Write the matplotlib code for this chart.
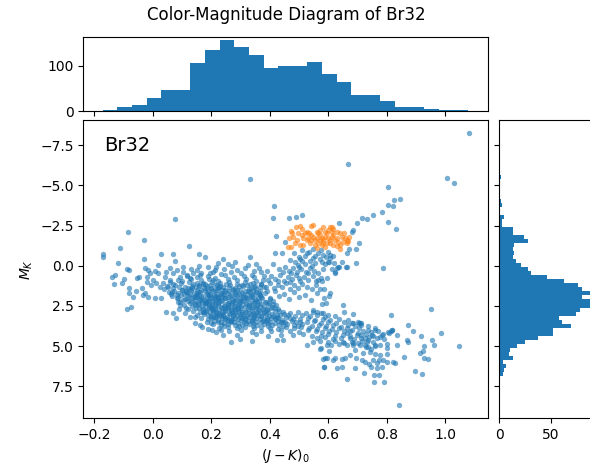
import numpy as np
import matplotlib
matplotlib.use("Agg")
import matplotlib.pyplot as plt

# (J-K)_0, M_K pairs, grouped by region
outer = [
    (1.081, -8.25), (0.668, -6.32), (0.334, -5.39), (1.005, -5.43), (1.031, -5.12),
    (0.803, -4.88), (0.826, -4.06), (0.845, -4.13), (0.803, -3.77), (0.823, -3.71),
    (0.785, -3.34), (0.754, -3.15), (0.734, -2.89), (0.716, -2.98), (0.700, -2.64),
    (0.803, -2.70), (0.832, -2.26), (0.638, -2.64), (0.686, -2.22), (0.682, -2.11),
    (0.416, -3.71), (0.412, -2.95), (0.467, -2.95), (0.490, -3.01), (0.509, -3.15),
    (0.075, -2.89), (-0.086, -2.12), (-0.029, -1.62), (-0.110, -1.10), (0.124, -1.22),
    (0.421, -1.86), (0.452, -1.49), (0.705, -1.43), (0.695, -1.02), (0.672, -1.04),
    (0.663, -0.77), (0.608, -0.67), (0.549, -1.02), (0.566, -0.77), (0.583, -0.67),
    (0.695, -0.15), (0.661, 0.06), (0.638, 0.06), (0.788, 0.12), (0.629, 0.12),
    (0.612, 0.22), (0.600, -0.25), (0.606, -0.46), (0.646, -0.25), (0.620, -0.15),
    (0.622, 0.43), (0.418, -0.81), (0.441, -0.77), (0.483, -0.77), (0.526, -0.81),
    (0.950, 2.71), (1.048, 5.00), (0.985, 4.17), (0.954, 4.62), (0.963, 4.93),
    (0.928, 4.99), (0.923, 5.28), (0.914, 5.41), (0.928, 5.72), (0.942, 5.78),
    (0.921, 6.73), (0.897, 6.53), (0.843, 8.66), (0.874, 3.71), (0.891, 4.04),
    (0.917, 4.37), (0.868, 4.62), (0.874, 4.72), (0.859, 5.66), (0.815, 3.07),
    (0.836, 4.31), (0.834, 4.93), (0.820, 4.00), (0.814, 4.04), (0.808, 4.17),
    (0.802, 5.14), (0.828, 6.07), (0.802, 5.97), (0.823, 5.97),
]

left = [
    (-0.171, -0.73), (-0.171, -0.52), (0.028, -0.73), (0.068, -0.73), (0.159, -0.73),
    (0.179, -0.52), (-0.029, -0.44), (0.076, -0.31), (-0.118, -0.19), (0.019, -0.06),
    (0.241, -0.40), (0.259, -0.11), (0.333, -0.52), (0.352, -0.09), (0.410, -0.11),
    (0.327, -0.04), (-0.087, 0.18), (-0.080, 0.27), (-0.129, 0.56), (-0.140, 0.72),
    (-0.097, 0.85), (-0.106, 1.10), (-0.131, 1.14), (-0.082, 1.41), (-0.080, 1.68),
    (-0.066, 1.93), (-0.089, 2.71), (-0.074, 2.59), (-0.058, 1.55), (-0.032, 1.82),
    (-0.055, 0.79), (-0.046, 0.68), (-0.026, 0.16), (-0.015, 0.27), (-0.009, 0.43),
    (0.008, 0.31), (0.019, 0.43), (-0.018, 0.68), (0.002, 0.89), (-0.021, 0.99),
    (-0.004, 1.20), (0.013, 1.10), (0.025, 1.35), (-0.038, 1.41), (-0.026, 1.68),
    (-0.015, 1.93), (0.008, 2.03), (0.028, 2.03), (0.045, 2.86), (0.070, 2.92),
    (0.091, 2.71), (0.080, 3.27), (0.110, 2.96), (0.128, 3.21), (0.145, 3.21),
    (0.162, 3.69), (0.198, 3.54), (0.202, 4.00), (0.042, 0.68), (0.059, 0.89),
    (0.036, 1.10), (0.053, 1.30), (0.070, 0.47), (0.084, 0.27), (0.093, 0.68),
    (0.105, 0.37), (0.116, 0.58), (0.127, 0.79), (0.139, 0.43), (0.150, 0.27),
    (0.162, 0.58), (0.065, 1.61), (0.082, 1.82), (0.099, 1.51), (0.116, 1.72),
    (0.133, 1.41), (0.144, 1.93), (0.156, 1.61), (0.162, 2.13), (0.105, 2.13),
    (0.127, 2.34), (0.088, 2.24), (0.173, 1.10), (0.184, 1.41), (0.190, 1.82),
    (0.179, 2.34), (0.196, 0.47), (0.207, 0.89), (0.213, 0.27), (0.219, 1.51),
    (0.224, 2.03), (0.201, 2.65), (0.216, 3.17), (0.173, 2.86), (0.215, 0.05),
    (0.245, 0.18), (0.270, 0.02), (0.290, 0.25), (0.315, 0.12), (0.345, 0.30),
    (0.365, 0.15), (0.390, 0.35), (0.280, -0.25), (0.225, -0.15), (0.190, 0.10),
    (0.160, 0.00), (0.130, 0.20), (0.105, 0.05), (0.060, 0.15), (0.045, 0.40),
    (0.145, 3.55), (0.170, 3.80), (0.190, 3.95), (0.215, 4.15), (0.240, 4.30),
    (0.300, 4.55), (0.232, 3.98), (0.268, 4.73), (0.338, 4.66), (0.424, 4.62),
    (0.447, 4.62),
]

core = [
    (0.165, 0.48), (0.205, 0.41), (0.232, 0.52), (0.268, 0.38), (0.301, 0.47), (0.338, 0.55), (0.372, 0.40),
    (0.118, 0.62), (0.152, 0.70), (0.188, 0.63), (0.214, 0.74), (0.247, 0.60), (0.279, 0.69), (0.312, 0.64),
    (0.346, 0.73), (0.381, 0.61),
    (0.085, 0.88), (0.132, 0.81), (0.166, 0.90), (0.193, 0.84), (0.225, 0.92), (0.258, 0.80), (0.287, 0.89),
    (0.318, 0.83), (0.352, 0.94), (0.378, 0.86),
    (0.061, 1.02), (0.097, 1.09), (0.124, 1.00), (0.150, 1.07), (0.178, 1.12), (0.204, 1.01), (0.231, 1.08),
    (0.262, 1.03), (0.289, 1.11), (0.316, 0.99), (0.343, 1.06), (0.369, 1.13),
    (0.048, 1.27), (0.078, 1.21), (0.109, 1.30), (0.136, 1.24), (0.160, 1.19), (0.187, 1.29), (0.214, 1.23),
    (0.239, 1.31), (0.266, 1.22), (0.295, 1.28), (0.322, 1.20), (0.351, 1.26), (0.380, 1.32),
    (0.040, 1.46), (0.071, 1.40), (0.101, 1.49), (0.127, 1.43), (0.152, 1.50), (0.176, 1.41), (0.199, 1.47),
    (0.222, 1.39), (0.248, 1.48), (0.273, 1.44), (0.300, 1.51), (0.328, 1.42), (0.355, 1.47),
    (0.055, 1.63), (0.088, 1.70), (0.115, 1.61), (0.140, 1.68), (0.163, 1.64), (0.185, 1.71), (0.208, 1.60),
    (0.232, 1.67), (0.257, 1.72), (0.281, 1.62), (0.306, 1.69), (0.334, 1.64), (0.362, 1.71), (0.390, 1.60),
    (0.066, 1.88), (0.098, 1.81), (0.124, 1.90), (0.148, 1.83), (0.171, 1.87), (0.194, 1.80), (0.217, 1.91),
    (0.241, 1.84), (0.264, 1.89), (0.290, 1.82), (0.315, 1.92), (0.341, 1.86), (0.366, 1.81),
    (0.082, 2.02), (0.110, 2.09), (0.134, 2.01), (0.158, 2.07), (0.180, 2.11), (0.203, 2.03), (0.225, 2.08),
    (0.248, 2.00), (0.272, 2.06), (0.297, 2.12), (0.323, 2.04), (0.349, 2.09), (0.375, 2.01), (0.402, 2.07),
    (0.095, 2.28), (0.122, 2.21), (0.146, 2.30), (0.168, 2.24), (0.190, 2.19), (0.212, 2.27), (0.234, 2.22),
    (0.257, 2.31), (0.281, 2.25), (0.305, 2.20), (0.331, 2.29), (0.357, 2.23), (0.384, 2.28), (0.412, 2.21),
    (0.108, 2.42), (0.135, 2.49), (0.158, 2.41), (0.180, 2.47), (0.201, 2.52), (0.223, 2.43), (0.245, 2.48),
    (0.268, 2.40), (0.291, 2.46), (0.315, 2.51), (0.340, 2.44), (0.366, 2.49), (0.393, 2.41), (0.421, 2.47),
    (0.122, 2.68), (0.148, 2.61), (0.171, 2.70), (0.193, 2.64), (0.214, 2.69), (0.236, 2.60), (0.258, 2.66),
    (0.280, 2.72), (0.303, 2.63), (0.327, 2.68), (0.352, 2.61), (0.378, 2.70), (0.404, 2.64), (0.430, 2.69),
    (0.137, 2.82), (0.162, 2.89), (0.184, 2.81), (0.205, 2.87), (0.227, 2.92), (0.249, 2.83), (0.271, 2.88),
    (0.294, 2.80), (0.318, 2.86), (0.343, 2.91), (0.368, 2.84), (0.394, 2.89), (0.420, 2.81), (0.445, 2.87),
    (0.150, 3.08), (0.176, 3.01), (0.198, 3.10), (0.220, 3.04), (0.242, 3.09), (0.264, 3.00), (0.287, 3.06),
    (0.311, 3.12), (0.335, 3.03), (0.360, 3.08), (0.386, 3.01), (0.411, 3.10), (0.437, 3.04), (0.462, 3.09),
    (0.166, 3.22), (0.190, 3.29), (0.213, 3.21), (0.236, 3.27), (0.258, 3.31), (0.281, 3.23), (0.305, 3.28),
    (0.330, 3.20), (0.355, 3.26), (0.380, 3.30), (0.405, 3.22), (0.430, 3.27), (0.456, 3.21), (0.481, 3.29),
    (0.185, 3.48), (0.210, 3.41), (0.233, 3.50), (0.256, 3.44), (0.279, 3.49), (0.302, 3.40), (0.327, 3.46),
    (0.352, 3.51), (0.377, 3.43), (0.402, 3.48), (0.428, 3.41), (0.453, 3.50), (0.478, 3.44), (0.503, 3.47),
    (0.205, 3.62), (0.232, 3.69), (0.257, 3.61), (0.281, 3.67), (0.306, 3.71), (0.331, 3.63), (0.357, 3.68),
    (0.382, 3.60), (0.408, 3.66), (0.433, 3.70), (0.459, 3.62), (0.484, 3.67), (0.510, 3.64),
    (0.228, 3.88), (0.258, 3.81), (0.287, 3.90), (0.316, 3.84), (0.345, 3.89), (0.372, 3.80), (0.400, 3.87),
    (0.428, 3.92), (0.455, 3.83), (0.482, 3.88), (0.508, 3.81), (0.535, 3.86),
    (0.262, 4.08), (0.301, 4.01), (0.338, 4.11), (0.372, 4.03), (0.405, 4.09), (0.438, 4.00), (0.470, 4.06),
    (0.500, 4.12), (0.530, 4.02), (0.558, 4.07),
    (0.290, 4.30), (0.352, 4.25), (0.395, 4.35), (0.440, 4.28), (0.480, 4.33), (0.515, 4.24), (0.545, 4.38),
]

core_inner = [
    (0.137, 1.16), (0.172, 1.13), (0.219, 1.18), (0.252, 1.12), (0.305, 1.17), (0.334, 1.14),
    (0.121, 1.37), (0.149, 1.33), (0.201, 1.38), (0.227, 1.34), (0.281, 1.36), (0.337, 1.39), (0.366, 1.33),
    (0.114, 1.57), (0.164, 1.53), (0.188, 1.58), (0.236, 1.54), (0.261, 1.56), (0.287, 1.52), (0.315, 1.59),
    (0.342, 1.55),
    (0.128, 1.77), (0.151, 1.73), (0.197, 1.78), (0.220, 1.74), (0.244, 1.76), (0.270, 1.79), (0.294, 1.73),
    (0.322, 1.77), (0.350, 1.74),
    (0.140, 1.96), (0.166, 1.93), (0.186, 1.98), (0.210, 1.94), (0.233, 1.97), (0.259, 1.92), (0.283, 1.99),
    (0.309, 1.95), (0.335, 1.93), (0.360, 1.98),
    (0.144, 2.17), (0.170, 2.13), (0.193, 2.18), (0.216, 2.14), (0.238, 2.16), (0.262, 2.19), (0.286, 2.13),
    (0.312, 2.17), (0.338, 2.14), (0.364, 2.18),
    (0.156, 2.36), (0.181, 2.33), (0.203, 2.38), (0.224, 2.34), (0.246, 2.37), (0.270, 2.32), (0.294, 2.39),
    (0.318, 2.35), (0.345, 2.33), (0.371, 2.38), (0.398, 2.34),
    (0.170, 2.57), (0.193, 2.53), (0.212, 2.58), (0.235, 2.54), (0.257, 2.56), (0.279, 2.59), (0.303, 2.53),
    (0.328, 2.57), (0.354, 2.54), (0.380, 2.58), (0.407, 2.55),
    (0.183, 2.76), (0.206, 2.73), (0.226, 2.78), (0.247, 2.74), (0.269, 2.77), (0.292, 2.72), (0.315, 2.79),
    (0.340, 2.75), (0.365, 2.73), (0.391, 2.78),
    (0.196, 2.97), (0.218, 2.93), (0.239, 2.98), (0.260, 2.94), (0.283, 2.96), (0.306, 2.99), (0.330, 2.93),
    (0.355, 2.97), (0.381, 2.94), (0.407, 2.98),
    (0.208, 3.16), (0.232, 3.13), (0.253, 3.18), (0.275, 3.14), (0.298, 3.17), (0.322, 3.12), (0.347, 3.19),
    (0.372, 3.15), (0.398, 3.13), (0.424, 3.18),
    (0.224, 3.37), (0.246, 3.33), (0.268, 3.38), (0.291, 3.34), (0.316, 3.36), (0.341, 3.39), (0.367, 3.33),
    (0.392, 3.37), (0.417, 3.34), (0.442, 3.38),
    (0.245, 3.56), (0.268, 3.53), (0.293, 3.58), (0.318, 3.54), (0.344, 3.57), (0.370, 3.52), (0.395, 3.59),
    (0.420, 3.55), (0.446, 3.53),
]

core_extra = [
    (0.158, 1.28), (0.195, 1.22), (0.231, 1.27), (0.262, 1.31), (0.308, 1.24), (0.346, 1.33),
    (0.130, 1.52), (0.178, 1.56), (0.213, 1.50), (0.249, 1.58), (0.276, 1.53), (0.326, 1.56), (0.366, 1.55),
    (0.106, 1.78), (0.159, 1.79), (0.209, 1.81), (0.232, 1.76), (0.282, 1.78), (0.310, 1.81), (0.337, 1.79),
    (0.118, 2.00), (0.153, 1.97), (0.197, 2.00), (0.222, 1.95), (0.247, 2.02), (0.297, 1.98), (0.323, 2.01),
    (0.372, 1.96),
    (0.132, 2.21), (0.181, 2.24), (0.205, 2.20), (0.227, 2.25), (0.273, 2.22), (0.299, 2.26), (0.350, 2.20),
    (0.389, 2.24),
    (0.146, 2.45), (0.191, 2.39), (0.214, 2.45), (0.258, 2.44), (0.282, 2.49), (0.330, 2.42), (0.356, 2.47),
    (0.412, 2.39),
    (0.160, 2.64), (0.203, 2.67), (0.246, 2.62), (0.269, 2.68), (0.291, 2.64), (0.339, 2.66), (0.392, 2.67),
    (0.418, 2.63),
    (0.174, 2.86), (0.216, 2.85), (0.238, 2.89), (0.282, 2.84), (0.307, 2.90), (0.356, 2.86), (0.380, 2.90),
    (0.432, 2.84),
    (0.188, 3.06), (0.231, 3.04), (0.275, 3.07), (0.299, 3.02), (0.348, 3.05), (0.372, 3.10), (0.424, 3.06),
    (0.449, 3.02),
    (0.201, 3.26), (0.247, 3.24), (0.270, 3.29), (0.317, 3.25), (0.342, 3.22), (0.392, 3.28), (0.418, 3.24),
    (0.468, 3.25),
    (0.222, 3.47), (0.267, 3.45), (0.314, 3.49), (0.339, 3.44), (0.389, 3.46), (0.440, 3.47), (0.490, 3.49),
    (0.244, 3.75), (0.294, 3.76), (0.344, 3.74), (0.394, 3.77), (0.445, 3.76), (0.496, 3.74),
    (0.072, 1.55), (0.090, 1.35), (0.062, 1.78), (0.085, 1.98), (0.095, 2.45), (0.115, 2.60), (0.070, 1.15),
    (0.100, 0.95),
]

branch = [
    (0.512, -0.95), (0.535, -0.88), (0.556, -0.62), (0.575, -0.98), (0.592, -0.55), (0.548, -0.50),
    (0.521, -0.60), (0.600, -0.85), (0.618, -0.58), (0.500, -0.55),
    (0.468, -0.35), (0.487, -0.22), (0.505, -0.40), (0.522, -0.12), (0.538, -0.30), (0.556, -0.20),
    (0.571, -0.42), (0.588, -0.08), (0.497, -0.05), (0.545, 0.00), (0.512, -0.28), (0.578, -0.25),
    (0.432, 0.22), (0.451, 0.08), (0.466, 0.35), (0.480, 0.15), (0.494, 0.42), (0.508, 0.20),
    (0.523, 0.38), (0.537, 0.12), (0.552, 0.30), (0.566, 0.45), (0.583, 0.18), (0.472, 0.48),
    (0.445, 0.40), (0.500, 0.05), (0.530, 0.48),
    (0.405, 0.62), (0.420, 0.80), (0.436, 0.58), (0.450, 0.92), (0.462, 0.70), (0.478, 0.85),
    (0.491, 0.60), (0.505, 0.95), (0.518, 0.72), (0.532, 0.88), (0.547, 0.66), (0.560, 0.98),
    (0.575, 0.78), (0.430, 0.98), (0.470, 1.00), (0.395, 0.90), (0.500, 0.78),
    (0.372, 1.12), (0.388, 1.30), (0.402, 1.05), (0.415, 1.40), (0.428, 1.18), (0.442, 1.35),
    (0.455, 1.08), (0.468, 1.45), (0.482, 1.22), (0.497, 1.38), (0.512, 1.12), (0.528, 1.30),
    (0.545, 1.45), (0.560, 1.20), (0.572, 1.47), (0.585, 1.47),
    (0.352, 1.62), (0.368, 1.85), (0.384, 1.70), (0.400, 2.02), (0.418, 1.58), (0.433, 1.90),
    (0.450, 1.75), (0.466, 2.10), (0.482, 1.65), (0.500, 1.95), (0.520, 1.80), (0.540, 2.15),
    (0.562, 1.70), (0.585, 2.00), (0.606, 1.72), (0.604, 1.88), (0.604, -0.25), (0.635, 0.10),
    (0.663, 0.06), (0.623, 0.37), (0.595, 0.79), (0.578, 0.93), (0.566, 0.89),
]

band = [
    (0.526, 4.93), (0.575, 5.14), (0.589, 5.76), (0.623, 5.76), (0.587, 6.28),
    (0.758, 7.21), (0.790, 7.21), (0.775, 6.80), (0.758, 6.80), (0.766, 6.38), (0.785, 6.28),
    (0.773, 5.87), (0.754, 5.87), (0.760, 5.49), (0.777, 5.55), (0.745, 5.20), (0.731, 5.08),
    (0.737, 4.62), (0.724, 6.69), (0.692, 6.38), (0.663, 7.07), (0.629, 6.38), (0.646, 6.32),
    (0.657, 5.76), (0.675, 5.55), (0.646, 5.82), (0.586, 6.32), (0.581, 5.80), (0.597, 5.76),
    (0.618, 5.87), (0.604, 5.28), (0.572, 5.20), (0.595, 4.93), (0.695, 5.76), (0.715, 5.87),
    (0.720, 5.45), (0.692, 5.24), (0.703, 4.83), (0.663, 4.93), (0.680, 4.72), (0.726, 5.97),
    (0.741, 6.11), (0.745, 6.28), (0.766, 6.07), (0.789, 5.87), (0.800, 5.49),
    (0.654, 2.90), (0.686, 3.02), (0.703, 3.48), (0.709, 3.58), (0.714, 3.54),
    (0.686, 4.83), (0.674, 4.52), (0.652, 4.72),
    (0.663, 4.21), (0.726, 4.52), (0.749, 4.31), (0.760, 4.00), (0.766, 4.52), (0.783, 4.31),
    (0.777, 4.93), (0.800, 4.87), (0.760, 4.93), (0.737, 5.04), (0.743, 5.35), (0.732, 4.72),
    (0.709, 4.93),
    (0.697, 4.31), (0.729, 4.25), (0.741, 4.46), (0.760, 3.90), (0.777, 4.41), (0.789, 4.25),
    (0.806, 4.10), (0.817, 4.00), (0.654, 4.04), (0.663, 3.90), (0.680, 3.58), (0.707, 3.58),
    (0.712, 3.69), (0.601, 3.07), (0.583, 2.96), (0.561, 2.86), (0.549, 2.76),
    (0.593, 2.34), (0.578, 2.38), (0.650, 2.44),
    (0.470, 2.93), (0.497, 2.86), (0.523, 2.95), (0.548, 2.88), (0.575, 2.97),
    (0.488, 3.13), (0.512, 3.06), (0.537, 3.15), (0.562, 3.09), (0.590, 3.17), (0.625, 3.10),
    (0.505, 3.33), (0.530, 3.26), (0.556, 3.35), (0.581, 3.29), (0.607, 3.37), (0.637, 3.30), (0.668, 3.36),
    (0.527, 3.52), (0.551, 3.46), (0.576, 3.55), (0.601, 3.49), (0.627, 3.57), (0.655, 3.50), (0.684, 3.55),
    (0.545, 3.74), (0.569, 3.67), (0.594, 3.76), (0.618, 3.70), (0.643, 3.78), (0.668, 3.71), (0.693, 3.77),
    (0.735, 3.72),
    (0.563, 3.93), (0.588, 3.86), (0.612, 3.95), (0.637, 3.89), (0.683, 3.97), (0.707, 3.90), (0.735, 3.98),
    (0.578, 4.12), (0.603, 4.05), (0.628, 4.15), (0.676, 4.09), (0.702, 4.16), (0.718, 4.08), (0.745, 4.14),
    (0.770, 4.07),
    (0.575, 4.34), (0.600, 4.27), (0.625, 4.36), (0.650, 4.29), (0.675, 4.38), (0.712, 4.32), (0.752, 4.36),
    (0.562, 4.52), (0.590, 4.46), (0.615, 4.55), (0.645, 4.49), (0.690, 4.56), (0.712, 4.48), (0.790, 4.53),
    (0.548, 4.73), (0.572, 4.66), (0.600, 4.76), (0.625, 4.70), (0.655, 4.78), (0.717, 4.71), (0.752, 4.77),
    (0.610, 4.93), (0.638, 4.87), (0.686, 4.96), (0.725, 4.90), (0.760, 4.97),
]

# red clump stars (orange)
clump = [
    (0.490, -2.43), (0.504, -2.47), (0.543, -2.47), (0.549, -2.55), (0.581, -2.39), (0.606, -2.39),
    (0.612, -2.43), (0.618, -2.26), (0.640, -2.01), (0.654, -2.05), (0.672, -1.81), (0.665, -1.43),
    (0.640, -1.29), (0.640, -1.02), (0.472, -2.18), (0.467, -1.70), (0.481, -1.81), (0.492, -1.60),
    (0.487, -1.39), (0.504, -1.29), (0.515, -1.29), (0.464, -1.14), (0.472, -1.14), (0.521, -2.01),
    (0.526, -2.12), (0.535, -2.01), (0.543, -1.91), (0.549, -1.81), (0.555, -1.60), (0.561, -1.70),
    (0.566, -2.01), (0.572, -1.91), (0.578, -1.70), (0.583, -1.60), (0.589, -1.81), (0.595, -2.01),
    (0.600, -1.70), (0.606, -1.60), (0.612, -1.81), (0.618, -1.91), (0.623, -1.60), (0.629, -1.70),
    (0.635, -1.49), (0.652, -1.49), (0.663, -1.60), (0.566, -1.39), (0.578, -1.29), (0.589, -1.18),
    (0.595, -1.39), (0.555, -1.29), (0.538, -1.39), (0.526, -1.60), (0.515, -1.70), (0.509, -1.91),
    (0.532, -1.70), (0.572, -2.22), (0.589, -2.12), (0.561, -2.12), (0.612, -2.12), (0.629, -2.12),
    (0.600, -2.22), (0.657, -1.70), (0.646, -1.81), (0.583, -1.39), (0.572, -1.60), (0.606, -1.39),
    (0.618, -1.29), (0.561, -1.08), (0.477, -2.01), (0.498, -2.01), (0.509, -2.26), (0.669, -1.56),
    (0.631, -1.22), (0.543, -1.60),
]

# histogram counts
x_bin_start = -0.171
x_bin_width = 0.05
x_counts = [3, 10, 13, 29, 47, 47, 107, 136, 157, 141, 125, 95, 100,
            100, 109, 82, 64, 36, 36, 22, 8, 8, 4, 2, 2]

m_bin_start = -8.4
m_bin_width = 0.25
m_counts = [1, 0, 0, 0, 0, 0, 0, 0, 1, 0, 0, 2, 1, 1, 1, 0, 0, 2, 3, 0, 1,
            5, 3, 3, 13, 13, 24, 28, 14, 13, 14, 13, 16, 21, 28, 31, 46, 63,
            76, 80, 90, 80, 93, 89, 78, 74, 58, 61, 69, 52, 52, 37, 25, 17,
            10, 9, 13, 4, 6, 5, 4, 1, 1, 0, 0, 0, 0, 0, 1]

blue = np.array(outer + left + core + core_inner + core_extra + branch + band)
orange = np.array(clump)

fig = plt.figure(figsize=(5.9, 4.67), dpi=100)
ax = fig.add_axes([0.1415, 0.1049, 0.6851, 0.6381])
ax_top = fig.add_axes([0.1415, 0.7623, 0.6851, 0.159], sharex=ax)
ax_right = fig.add_axes([0.8463, 0.1049, 0.171, 0.6381], sharey=ax)

ax.scatter(blue[:, 0], blue[:, 1], s=15, alpha=0.6, color="C0", linewidths=0)
ax.scatter(orange[:, 0], orange[:, 1], s=15, alpha=0.6, color="C1", linewidths=0)

x_edges = x_bin_start + x_bin_width * np.arange(len(x_counts) + 1)
ax_top.hist(x_edges[:-1], bins=x_edges, weights=x_counts, color="C0")

m_edges = m_bin_start + m_bin_width * np.arange(len(m_counts) + 1)
ax_right.hist(m_edges[:-1], bins=m_edges, weights=m_counts,
              orientation="horizontal", color="C0")

ax.set_xlim(-0.2365, 1.1455)
ax.set_ylim(9.47, -9.06)
ax_right.set_xlim(0, 97.6)

ax_top.tick_params(labelbottom=False)
ax_right.tick_params(labelleft=False)

ax.text(0.05, 0.915, "Br32", transform=ax.transAxes, fontsize=14, va="center")
ax.set_xlabel("$(J-K)_0$")
ax.set_ylabel("$M_K$")

fig.text(0.485, 0.968, "Color-Magnitude Diagram of Br32", ha="center",
         va="center", fontsize=12)

fig.savefig("out.png", dpi=100)
